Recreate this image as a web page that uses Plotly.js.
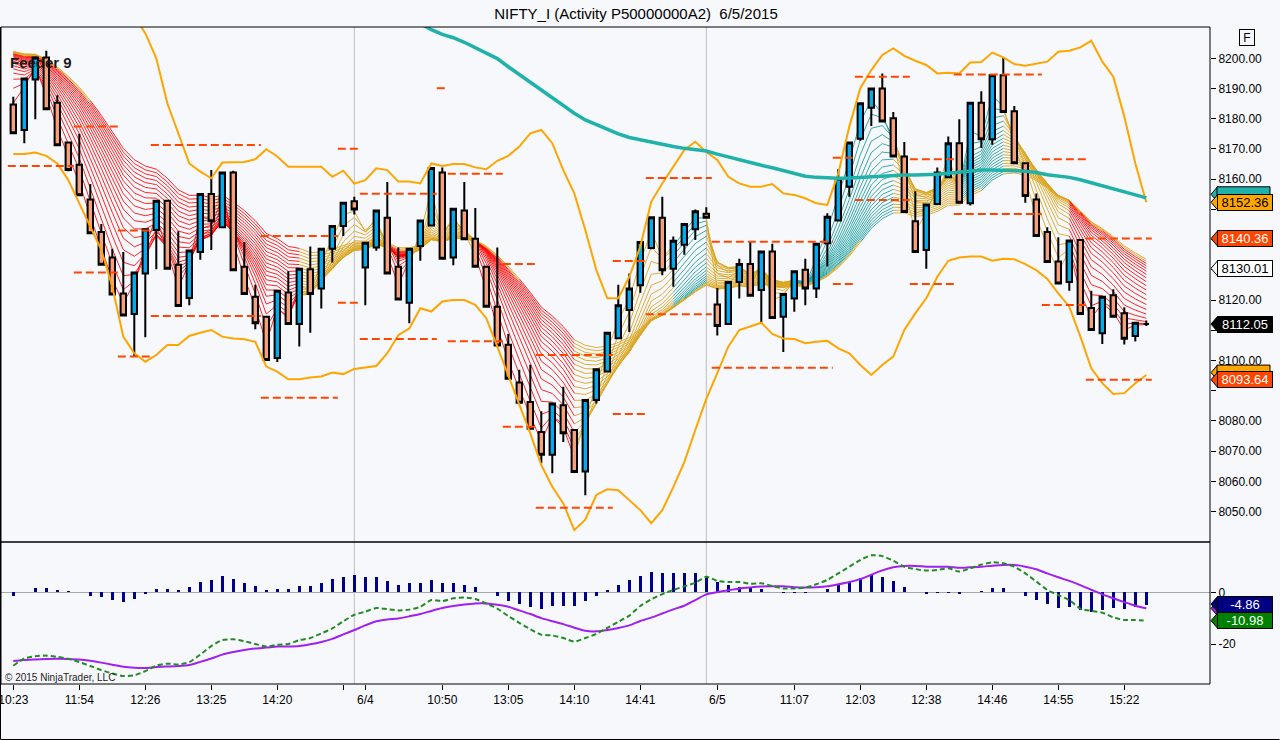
<!DOCTYPE html>
<html>
<head>
<meta charset="utf-8">
<script src="https://cdn.plot.ly/plotly-3.0.1.min.js"></script>
<style>
  html, body { margin: 0; padding: 0; background: #F7F8FC; }
  #chart { width: 1280px; height: 740px; }
</style>
</head>
<body>
<div id="chart"></div>
<script>
// ---------------- DATA ----------------
const opens = [8184.7,8176.3,8193.0,8200.3,8185.3,8172.1,8164.8,8153.3,8142.5,8134.1,
8122.2,8115.4,8128.8,8143.2,8152.9,8131.7,8120.7,8135.9,8155.1,8144.1,
8162.2,8131.0,8121.1,8114.5,8100.8,8122.5,8112.1,8130.2,8123.8,8137.0,
8144.5,8152.7,8130.8,8137.4,8147.2,8131.0,8119.1,8137.9,8144.7,8162.2,
8134.1,8149.6,8140.3,8131.0,8117.8,8105.2,8092.7,8086.3,8076.3,8068.8,
8085.2,8077.0,8063.3,8086.9,8096.4,8107.4,8116.7,8124.9,8137.2,8147.2,
8130.4,8138.3,8143.4,8148.6,8118.5,8112.1,8126.0,8131.9,8123.3,8136.1,
8114.5,8120.5,8130.0,8123.8,8138.8,8146.3,8157.5,8173.4,8183.6,8190.0,
8180.2,8167.5,8146.1,8136.6,8151.8,8160.6,8171.9,8152.0,8185.3,8173.2,
8194.4,8182.5,8165.3,8153.3,8142.5,8132.8,8126.0,8139.9,8117.4,8109.0,
8121.6,8115.6,8108.1,8112.05];
const highs = [8187.3,8193.5,8200.5,8202.5,8187.8,8172.1,8175.0,8158.4,8145.2,8137.0,
8135.9,8129.1,8143.4,8152.9,8152.9,8142.8,8136.4,8155.1,8163.0,8162.2,
8162.8,8139.2,8125.1,8114.5,8123.1,8129.5,8130.4,8137.7,8137.0,8144.5,
8152.2,8154.2,8139.0,8149.6,8159.1,8137.4,8137.0,8146.3,8163.7,8163.9,
8150.2,8159.1,8150.5,8131.0,8137.4,8108.8,8096.9,8098.6,8083.2,8085.8,
8091.3,8077.0,8086.9,8097.1,8109.2,8125.1,8128.8,8139.2,8147.4,8154.2,
8141.0,8145.2,8150.0,8150.7,8124.0,8126.0,8133.7,8139.4,8136.1,8138.6,
8122.0,8129.5,8133.7,8138.6,8148.7,8163.3,8172.1,8185.1,8190.0,8195.0,
8182.2,8172.3,8156.0,8151.6,8163.9,8174.1,8179.8,8185.3,8189.1,8194.4,
8200.1,8184.2,8165.3,8155.3,8144.1,8140.8,8139.7,8139.9,8123.1,8121.1,
8123.6,8117.6,8112.5,8113.2];
const lows = [8175.2,8171.9,8179.8,8183.1,8171.2,8162.6,8154.7,8142.1,8131.7,8121.8,
8114.9,8101.3,8107.7,8130.2,8130.4,8118.0,8118.3,8133.3,8136.6,8144.1,
8129.9,8122.0,8110.3,8100.2,8099.5,8112.1,8104.6,8109.2,8117.2,8132.4,
8141.2,8148.3,8118.3,8136.3,8128.8,8120.2,8112.3,8133.0,8144.7,8133.7,
8131.5,8140.1,8131.0,8117.8,8105.0,8094.0,8086.0,8077.4,8066.0,8062.7,
8073.0,8063.1,8055.4,8085.8,8096.4,8107.4,8109.4,8122.4,8136.8,8128.2,
8124.4,8135.0,8139.9,8147.2,8108.3,8112.1,8120.5,8121.4,8112.3,8114.1,
8102.8,8116.1,8118.3,8120.7,8131.1,8146.3,8154.2,8172.7,8177.6,8179.1,
8167.5,8149.1,8135.9,8130.4,8151.8,8160.6,8152.2,8151.3,8170.3,8171.4,
8182.2,8165.3,8152.2,8141.2,8132.6,8125.5,8123.1,8115.4,8110.1,8105.5,
8114.5,8105.3,8106.3,8111.4];
const closes = [8175.2,8193.3,8200.3,8183.1,8171.2,8163.0,8154.7,8142.1,8131.7,8121.8,
8114.9,8129.1,8143.4,8152.9,8130.4,8118.0,8136.4,8155.1,8146.1,8162.2,
8129.9,8122.0,8112.3,8100.2,8123.1,8112.1,8130.4,8122.0,8137.0,8144.5,
8152.2,8150.0,8139.0,8149.6,8128.8,8120.2,8137.0,8146.3,8163.7,8133.7,
8150.2,8140.1,8131.0,8117.8,8105.0,8094.0,8086.0,8077.4,8068.8,8085.8,
8075.9,8063.1,8086.9,8097.1,8109.2,8118.3,8123.8,8139.2,8147.4,8129.9,
8139.6,8145.2,8149.4,8147.2,8111.4,8126.0,8131.9,8121.4,8136.1,8114.1,
8122.0,8129.5,8123.8,8138.6,8147.6,8160.2,8172.1,8185.1,8190.0,8179.1,
8167.5,8149.1,8135.9,8151.6,8162.2,8171.9,8152.2,8185.3,8173.2,8194.4,
8182.2,8165.3,8154.4,8141.2,8132.6,8125.5,8139.7,8115.4,8110.1,8121.1,
8114.5,8107.2,8112.5,8112.05];

// Bollinger bands (orange)
const bbUpper = [null,null,null,null,null,null,null,null,null,null,
null,8214.0,8208.3,8200.0,8185.1,8175.2,8165.2,8162.5,8160.3,8165.5,
8165.7,8165.7,8166.6,8169.9,8167.5,8164.1,8164.1,8164.1,8164.1,8160.8,
8162.8,8158.5,8159.7,8163.6,8163.0,8159.2,8159.2,8158.6,8165.2,8164.4,
8165.0,8165.0,8163.9,8163.3,8166.1,8167.7,8170.8,8175.2,8176.3,8171.9,
8163.0,8155.3,8143.2,8130.0,8120.6,8120.6,8127.7,8137.7,8152.6,8158.6,
8164.1,8169.7,8172.4,8169.0,8166.4,8160.8,8158.6,8157.5,8157.5,8158.4,
8155.3,8154.8,8153.7,8152.0,8151.5,8161.9,8177.4,8190.1,8196.1,8201.1,
8203.3,8200.8,8199.2,8197.8,8195.0,8195.2,8195.0,8198.6,8198.8,8201.9,
8200.3,8198.1,8197.5,8198.1,8198.9,8202.2,8202.5,8203.6,8205.8,8198.9,
8193.9,8180.7,8165.3,8152.36];
const bbLower = [8168.3,8168.3,8168.8,8167.7,8165.2,8159.7,8152.0,8144.3,8136.6,8124.4,
8107.9,8102.4,8099.6,8101.8,8105.1,8105.1,8108.1,8109.2,8110.1,8107.9,
8107.3,8107.0,8106.2,8098.0,8096.3,8093.8,8093.8,8094.4,8094.7,8096.0,
8095.5,8097.2,8097.7,8098.2,8102.4,8108.4,8110.6,8117.3,8116.2,8119.5,
8120.0,8120.0,8118.4,8114.0,8104.6,8095.2,8085.8,8075.9,8065.4,8058.2,
8052.7,8043.9,8047.3,8055.5,8057.4,8057.1,8053.8,8050.5,8046.2,8050.5,
8058.1,8066.4,8077.0,8087.3,8095.8,8104.6,8110.1,8111.2,8112.5,8108.8,
8107.3,8107.1,8105.7,8106.2,8106.5,8104.0,8102.4,8098.5,8095.2,8098.5,
8101.3,8110.1,8115.6,8120.6,8127.7,8133.0,8134.1,8134.4,8134.4,8133.0,
8133.7,8133.5,8131.9,8129.9,8127.0,8122.2,8117.8,8108.0,8097.4,8092.5,
8088.9,8089.2,8092.5,8095.2];

// slow moving average (thick teal)
const slowMA = [null,null,null,null,null,null,null,null,null,null,
null,null,null,null,null,null,null,null,null,null,
null,null,null,null,null,null,null,null,null,null,
null,null,null,null,null,null,null,8211.5,8209.5,8207.9,
8206.8,8205.3,8203.6,8201.7,8199.9,8197.2,8194.6,8192.1,8189.5,8187.0,
8184.5,8181.8,8179.6,8178.0,8176.5,8175.0,8173.8,8173.0,8172.3,8171.6,
8170.8,8170.2,8169.7,8169.3,8168.3,8167.3,8166.3,8165.5,8164.6,8163.8,
8162.9,8161.9,8161.0,8160.6,8160.4,8160.3,8160.4,8160.6,8160.9,8161.2,
8161.4,8161.4,8161.4,8161.4,8161.6,8162.0,8162.4,8162.7,8163.0,8163.0,
8163.0,8162.8,8162.6,8162.2,8161.5,8161.0,8160.6,8159.8,8158.8,8157.9,
8157.0,8156.0,8154.9,8153.8];

// ribbon: moving-average periods, the level they start from (read at left edge),
// and the ribbon colour state read bar by bar (R = falling/red, G = mixed/gold, T = rising/teal)
const ribbonPeriods = [2,3,4,5,6,7,8,9,10,11,12,13,14,15,16,17,18,19,20,21];
const ribbonPrior = 8205;
const ribbonStateRuns = [['R',27],['G',8],['R',2],['G',6],['R',9],['G',9],['T',3],['G',8],
                         ['T',9],['G',6],['T',4],['G',6],['R',7]];

// dashed levels: bar ranges with high / low level
const levelStart = [0,6,10,13,23,30,32,39,40,45,48,55,58,64,75,77,82,86,94,98];
const levelEnd   = [5,9,12,22,29,31,38,39,44,47,54,57,63,74,76,81,85,93,97,103];
const levelHigh  = [null,8177.4,8143.0,8171.3,8141.2,8170.1,8155.2,8190.1,8161.8,8131.9,
                    8101.8,8132.9,8160.4,8139.3,8167.1,8193.9,8166.6,8194.6,8166.6,8140.36];
const levelLow   = [8164.4,8129.1,8101.3,8114.7,8087.7,8119.1,8107.1,null,8106.4,8078.1,
                    8051.3,8082.3,8115.3,8097.6,8125.3,8153.1,8125.3,8148.5,8118.4,8093.64];

// MACD panel
const macdHist = [-1.3,0.0,1.5,1.5,0.8,0.4,0.1,-1.3,-1.9,-2.8,
-3.6,-2.5,-0.5,1.2,1.2,0.8,1.9,4.0,4.8,6.3,
5.2,3.6,2.3,0.9,1.2,1.2,2.3,2.3,3.6,5.2,
5.9,6.7,5.9,5.9,4.4,2.8,3.5,3.6,4.8,3.6,
3.6,2.8,2.1,0.0,-1.3,-3.4,-4.5,-5.5,-6.3,-5.3,
-5.2,-5.2,-3.4,-1.3,0.8,2.8,4.8,6.2,7.7,7.5,
7.5,7.5,7.5,6.4,4.1,2.8,2.2,2.2,1.3,0.0,
-0.1,-0.1,-0.1,0.3,1.3,2.8,4.1,5.4,6.8,6.1,
4.5,2.1,0.1,-0.8,-0.4,-0.4,-0.8,0.2,0.5,1.5,
1.5,0.3,-1.3,-3.0,-4.6,-5.9,-5.7,-6.7,-7.5,-7.0,
-6.2,-6.3,-5.8,-4.86];
const macdLine = [-28.4,-25.6,-24.7,-24.5,-25.0,-25.7,-27.0,-28.5,-30.1,-31.4,
-32.4,-32.1,-30.5,-28.4,-27.6,-27.9,-27.0,-24.1,-20.8,-18.5,
-18.2,-18.9,-20.0,-21.0,-20.3,-20.0,-18.5,-17.7,-15.9,-14.0,
-11.2,-8.7,-7.5,-6.1,-6.5,-7.0,-6.7,-5.6,-3.0,-3.4,
-2.3,-2.0,-2.6,-4.3,-6.3,-9.2,-11.8,-14.3,-16.4,-16.7,
-17.7,-19.1,-17.7,-16.1,-13.8,-11.4,-9.0,-5.3,-2.7,-0.7,
0.9,2.3,3.7,6.0,4.4,4.0,4.0,3.3,3.5,2.4,
1.5,1.5,1.8,3.1,4.8,7.3,9.9,12.5,14.3,14.0,
12.2,9.9,9.0,8.4,8.6,9.3,8.0,9.3,10.7,11.6,
11.2,9.9,7.3,4.2,0.9,-1.1,-3.0,-6.3,-7.2,-7.9,
-9.7,-10.7,-10.7,-10.98];
const macdAvg = [-26.6,-26.2,-26.0,-25.8,-25.7,-25.8,-26.0,-26.5,-27.2,-28.0,
-28.8,-29.2,-29.3,-28.9,-28.7,-28.5,-28.1,-26.9,-25.6,-24.1,
-23.1,-22.3,-21.7,-21.4,-21.0,-21.0,-20.8,-20.1,-19.2,-18.0,
-16.3,-14.6,-12.8,-11.2,-10.5,-10.1,-9.3,-8.4,-7.2,-6.1,
-5.3,-4.7,-4.3,-4.3,-4.8,-5.6,-7.0,-8.4,-10.0,-11.2,
-12.3,-13.7,-14.9,-15.1,-14.6,-13.8,-12.8,-11.1,-9.8,-8.2,
-6.6,-5.2,-3.0,-0.8,0.1,0.75,1.5,1.9,2.2,2.3,
2.3,2.0,1.9,2.0,2.3,3.1,4.0,5.1,6.8,8.5,
9.7,10.2,10.2,9.9,9.9,9.9,9.5,9.7,9.9,10.3,
10.6,10.6,9.9,8.9,7.3,5.8,4.4,2.8,1.0,-0.8,
-2.3,-3.8,-5.2,-6.2];

// time axis
const tickBars   = [0,6,12,18,24,30,32,39,45,51,57,64,71,77,83,89,95,101];
const tickLabels = ['10:23','11:54','12:26','13:25','14:20','','6/4','10:50','13:05','14:10','14:41',
                    '6/5','11:07','12:03','12:38','14:46','14:55','15:22'];
const sessionBreakBars = [31, 63];
const priceTicks = [8050,8060,8070,8080,8090,8100,8110,8120,8130,8140,8150,8160,8170,8180,8190,8200];
const priceTicksCovered = [8090,8110,8130,8140,8150];   // hidden behind the value tags
const oscTicks = [0,-20];

// right-hand value tags
const tagMidValue = 8130.5, tagMidText = '8130.01';

// ---------------- BUILD ----------------
const FONT = 'Liberation Sans, Arial, Helvetica, sans-serif';
const N = closes.length;
const bars = closes.map((_, i) => i);

const ribbonState = [];
ribbonStateRuns.forEach(([s, n]) => { for (let i = 0; i < n; i++) ribbonState.push(s); });

// ribbon EMAs
const ema = ribbonPeriods.map(p => {
  const a = 2 / (p + 1);
  const out = [];
  let prev = ribbonPrior;
  for (let t = 0; t < N; t++) { prev = prev + a * (closes[t] - prev); out.push(prev); }
  return out;
});
const K = ema.length;
const EPS = 0.8;
const buckets = { red: {x: [], y: []}, gold: {x: [], y: []}, teal: {x: [], y: []} };
for (let t = 1; t < N; t++) {
  const st = ribbonState[t];
  const slow = ema[K - 1][t];
  const cols = [];
  for (let k = 0; k < K - 1; k++) {
    let c = 'gold';
    if (st === 'R' && ema[k][t] < slow - EPS) c = 'red';
    else if (st === 'T' && ema[k][t] > slow + EPS) c = 'teal';
    cols.push(c);
  }
  cols.push(cols[K - 2]);
  for (let k = 0; k < K; k++) {
    const b = buckets[cols[k]];
    b.x.push(t - 1, t, null);
    b.y.push(ema[k][t - 1], ema[k][t], null);
  }
}
const ribbonColors = { red: 'rgba(255,0,0,0.85)', gold: 'rgba(218,165,32,0.9)', teal: 'rgba(32,160,160,0.9)' };

const traces = [];
['gold', 'red', 'teal'].forEach(c => {
  traces.push({ type: 'scatter', mode: 'lines', x: buckets[c].x, y: buckets[c].y,
    line: { color: ribbonColors[c], width: 1 }, hoverinfo: 'skip', showlegend: false,
    connectgaps: false, zorder: -1, xaxis: 'x', yaxis: 'y' });
});

traces.push({ type: 'candlestick', x: bars, open: opens, high: highs, low: lows, close: closes,
  xaxis: 'x', yaxis: 'y', whiskerwidth: 0, hoverinfo: 'skip', showlegend: false,
  increasing: { line: { color: '#000000', width: 2 }, fillcolor: '#00AEEF' },
  decreasing: { line: { color: '#000000', width: 2 }, fillcolor: '#F7A07C' }, zorder: 0 });

traces.push({ type: 'scatter', mode: 'lines', x: bars, y: bbUpper, line: { color: '#FFA500', width: 2 },
  hoverinfo: 'skip', showlegend: false, zorder: 1 });
traces.push({ type: 'scatter', mode: 'lines', x: bars, y: bbLower, line: { color: '#FFA500', width: 2 },
  hoverinfo: 'skip', showlegend: false, zorder: 1 });
traces.push({ type: 'scatter', mode: 'lines', x: bars, y: slowMA, line: { color: '#20B2AA', width: 3.5 },
  hoverinfo: 'skip', showlegend: false, zorder: 1 });

// dashed levels
const lvX = [], lvY = [];
for (let s = 0; s < levelStart.length; s++) {
  [levelHigh[s], levelLow[s]].forEach(v => {
    if (v === null) return;
    lvX.push(levelStart[s] - 0.5, levelEnd[s] + 0.5, null);
    lvY.push(v, v, null);
  });
}
traces.push({ type: 'scatter', mode: 'lines', x: lvX, y: lvY,
  line: { color: '#FF4500', width: 2, dash: '8px,4px' }, hoverinfo: 'skip', showlegend: false, zorder: 2 });

// MACD panel
traces.push({ type: 'bar', x: bars, y: macdHist, xaxis: 'x', yaxis: 'y2', width: 0.22,
  marker: { color: '#00008B', line: { width: 0 } }, hoverinfo: 'skip', showlegend: false });
traces.push({ type: 'scatter', mode: 'lines', x: bars, y: macdAvg, xaxis: 'x', yaxis: 'y2',
  line: { color: '#A020F0', width: 2, shape: 'spline', smoothing: 0.6 }, hoverinfo: 'skip', showlegend: false });
traces.push({ type: 'scatter', mode: 'lines', x: bars, y: macdLine, xaxis: 'x', yaxis: 'y2',
  line: { color: '#228B22', width: 2, dash: '5px,3px', shape: 'spline', smoothing: 0.6 }, hoverinfo: 'skip', showlegend: false });

// ---------------- LAYOUT ----------------
const W = 1280, H = 740, ML = 1, MR = 70, MT = 27, MB = 56;
const plotW = W - ML - MR, plotH = H - MT - MB;
const splitPx = 542;                       // separation between panels
const lowerTop = (H - MB - splitPx) / plotH;
const pxX = px => (px - ML) / plotW;       // pixel -> paper x
const pxY = py => (H - MB - py) / plotH;   // pixel -> paper y

const shapes = [];
sessionBreakBars.forEach(b => shapes.push({ type: 'line', xref: 'x', yref: 'paper', x0: b, x1: b, y0: 0, y1: 1,
  line: { color: '#BDBDBD', width: 1 }, layer: 'below' }));
// panel frames
shapes.push({ type: 'rect', xref: 'paper', yref: 'paper', x0: 0, x1: 1, y0: lowerTop, y1: 1, line: { color: '#000', width: 1 } });
shapes.push({ type: 'rect', xref: 'paper', yref: 'paper', x0: 0, x1: 1, y0: 0, y1: lowerTop, line: { color: '#000', width: 1 } });
// outer frame of image (left and bottom)
shapes.push({ type: 'line', xref: 'paper', yref: 'paper', x0: pxX(0.5), x1: pxX(0.5), y0: pxY(739.5), y1: 1, line: { color: '#000', width: 1 } });
shapes.push({ type: 'line', xref: 'paper', yref: 'paper', x0: pxX(0.5), x1: pxX(1279.5), y0: pxY(739.5), y1: pxY(739.5), line: { color: '#000', width: 1 } });

const annotations = [];
function tag(value, yref, bg, fg, text, halfUnits) {
  shapes.push({ type: 'path', xref: 'paper', yref: yref,
    path: `M ${pxX(1211)},${value} L ${pxX(1217.5)},${value + halfUnits} L ${pxX(1217.5)},${value - halfUnits} Z`,
    fillcolor: bg, line: { color: '#000', width: 1 } });
  if (text === null) {
    shapes.push({ type: 'rect', xref: 'paper', yref: yref, x0: pxX(1217), x1: pxX(1270),
      y0: value - halfUnits, y1: value + halfUnits, fillcolor: bg, line: { color: '#000', width: 1 } });
    return;
  }
  annotations.push({ xref: 'paper', yref: yref, x: pxX(1217), y: value, xanchor: 'left', yanchor: 'middle',
    text: text, showarrow: false, bgcolor: bg, bordercolor: '#000', borderwidth: 1, borderpad: 1,
    width: 52, height: 13, font: { family: FONT, size: 13, color: fg } });
}
const priceHalf = 7.5 / 3.022, oscHalf = 7.5 / 2.585;
tag(slowMA[N - 1] + 1.2, 'y', '#20B2AA', '#000', null, priceHalf);
tag(bbUpper[N - 1], 'y', '#FFA500', '#000', bbUpper[N - 1].toFixed(2), priceHalf);
tag(levelHigh[levelHigh.length - 1], 'y', '#FF4500', '#FFF', levelHigh[levelHigh.length - 1].toFixed(2), priceHalf);
tag(tagMidValue, 'y', '#FFFFFF', '#000', tagMidText, priceHalf);
tag(closes[N - 1], 'y', '#000000', '#FFF', closes[N - 1].toFixed(2), priceHalf);
tag(bbLower[N - 1] + 0.8, 'y', '#FFA500', '#000', null, priceHalf);
tag(levelLow[levelLow.length - 1], 'y', '#FF4500', '#FFF', levelLow[levelLow.length - 1].toFixed(2), priceHalf);
tag(macdAvg[N - 1], 'y2', '#A020F0', '#FFF', null, oscHalf);
tag(macdHist[N - 1] + 0.3, 'y2', '#000080', '#FFF', macdHist[N - 1].toFixed(2), oscHalf);
tag(macdLine[N - 1], 'y2', '#008000', '#FFF', macdLine[N - 1].toFixed(2), oscHalf);

annotations.push({ xref: 'paper', yref: 'paper', x: pxX(1247), y: pxY(37), text: 'F', showarrow: false,
  xanchor: 'center', yanchor: 'middle', bordercolor: '#000', borderwidth: 1, borderpad: 1,
  width: 12, height: 13, font: { family: FONT, size: 12, color: '#000' } });
annotations.push({ xref: 'paper', yref: 'paper', x: pxX(8), y: pxY(62), text: '<b>Feeder 9</b>', showarrow: false,
  xanchor: 'left', yanchor: 'middle', font: { family: FONT, size: 15, color: '#1a1a1a' } });
annotations.push({ xref: 'paper', yref: 'paper', x: pxX(3), y: pxY(677), text: '\u00a9 2015 NinjaTrader, LLC', showarrow: false,
  xanchor: 'left', yanchor: 'middle', font: { family: FONT, size: 10, color: '#222' } });

const yTop = 8200 + (58.3 - 27) / 3.022, yBot = 8200 - (542 - 58.3) / 3.022;
const oTop = (592.3 - 542) / 2.585, oBot = -(684 - 592.3) / 2.585;
const xLeft = (ML - 13.3) / 11, xRight = (W - MR - 13.3) / 11;

const layout = {
  width: W, height: H,
  margin: { l: ML, r: MR, t: MT, b: MB, pad: 0 },
  paper_bgcolor: '#F7F8FC', plot_bgcolor: '#F7F8FC',
  font: { family: FONT, size: 12, color: '#000' },
  showlegend: false, bargap: 0,
  title: { text: 'NIFTY_I (Activity P50000000A2)\u00a0\u00a06/5/2015', x: 636 / W, xanchor: 'center',
    y: 1 - 14 / H, yanchor: 'middle', yref: 'container', font: { family: FONT, size: 15, color: '#000' } },
  xaxis: { range: [xLeft, xRight], anchor: 'y2', showgrid: false, zeroline: false,
    tickmode: 'array', tickvals: tickBars, ticktext: tickLabels, ticks: 'outside', ticklen: 5,
    tickcolor: '#000', showline: false, rangeslider: { visible: false }, fixedrange: true,
    ticklabeloverflow: 'allow', automargin: false,
    tickfont: { family: FONT, size: 12, color: '#000' } },
  yaxis: { domain: [lowerTop, 1], range: [yBot, yTop], side: 'right', showgrid: false, zeroline: false,
    tickmode: 'array', tickvals: priceTicks,
    ticktext: priceTicks.map(v => priceTicksCovered.includes(v) ? '' : v.toFixed(2)),
    ticks: 'outside', ticklen: 5, tickcolor: '#000', showline: false, automargin: false,
    tickfont: { family: FONT, size: 12, color: '#000' } },
  yaxis2: { domain: [0, lowerTop], range: [oBot, oTop], side: 'right', showgrid: false,
    zeroline: true, zerolinecolor: '#A8A8A8', zerolinewidth: 1,
    tickmode: 'array', tickvals: oscTicks, ticktext: oscTicks.map(String),
    ticks: 'outside', ticklen: 5, tickcolor: '#000', showline: false, automargin: false,
    tickfont: { family: FONT, size: 12, color: '#000' } },
  shapes: shapes, annotations: annotations
};

Plotly.newPlot('chart', traces, layout, { displayModeBar: false, staticPlot: true });
</script>
</body>
</html>
